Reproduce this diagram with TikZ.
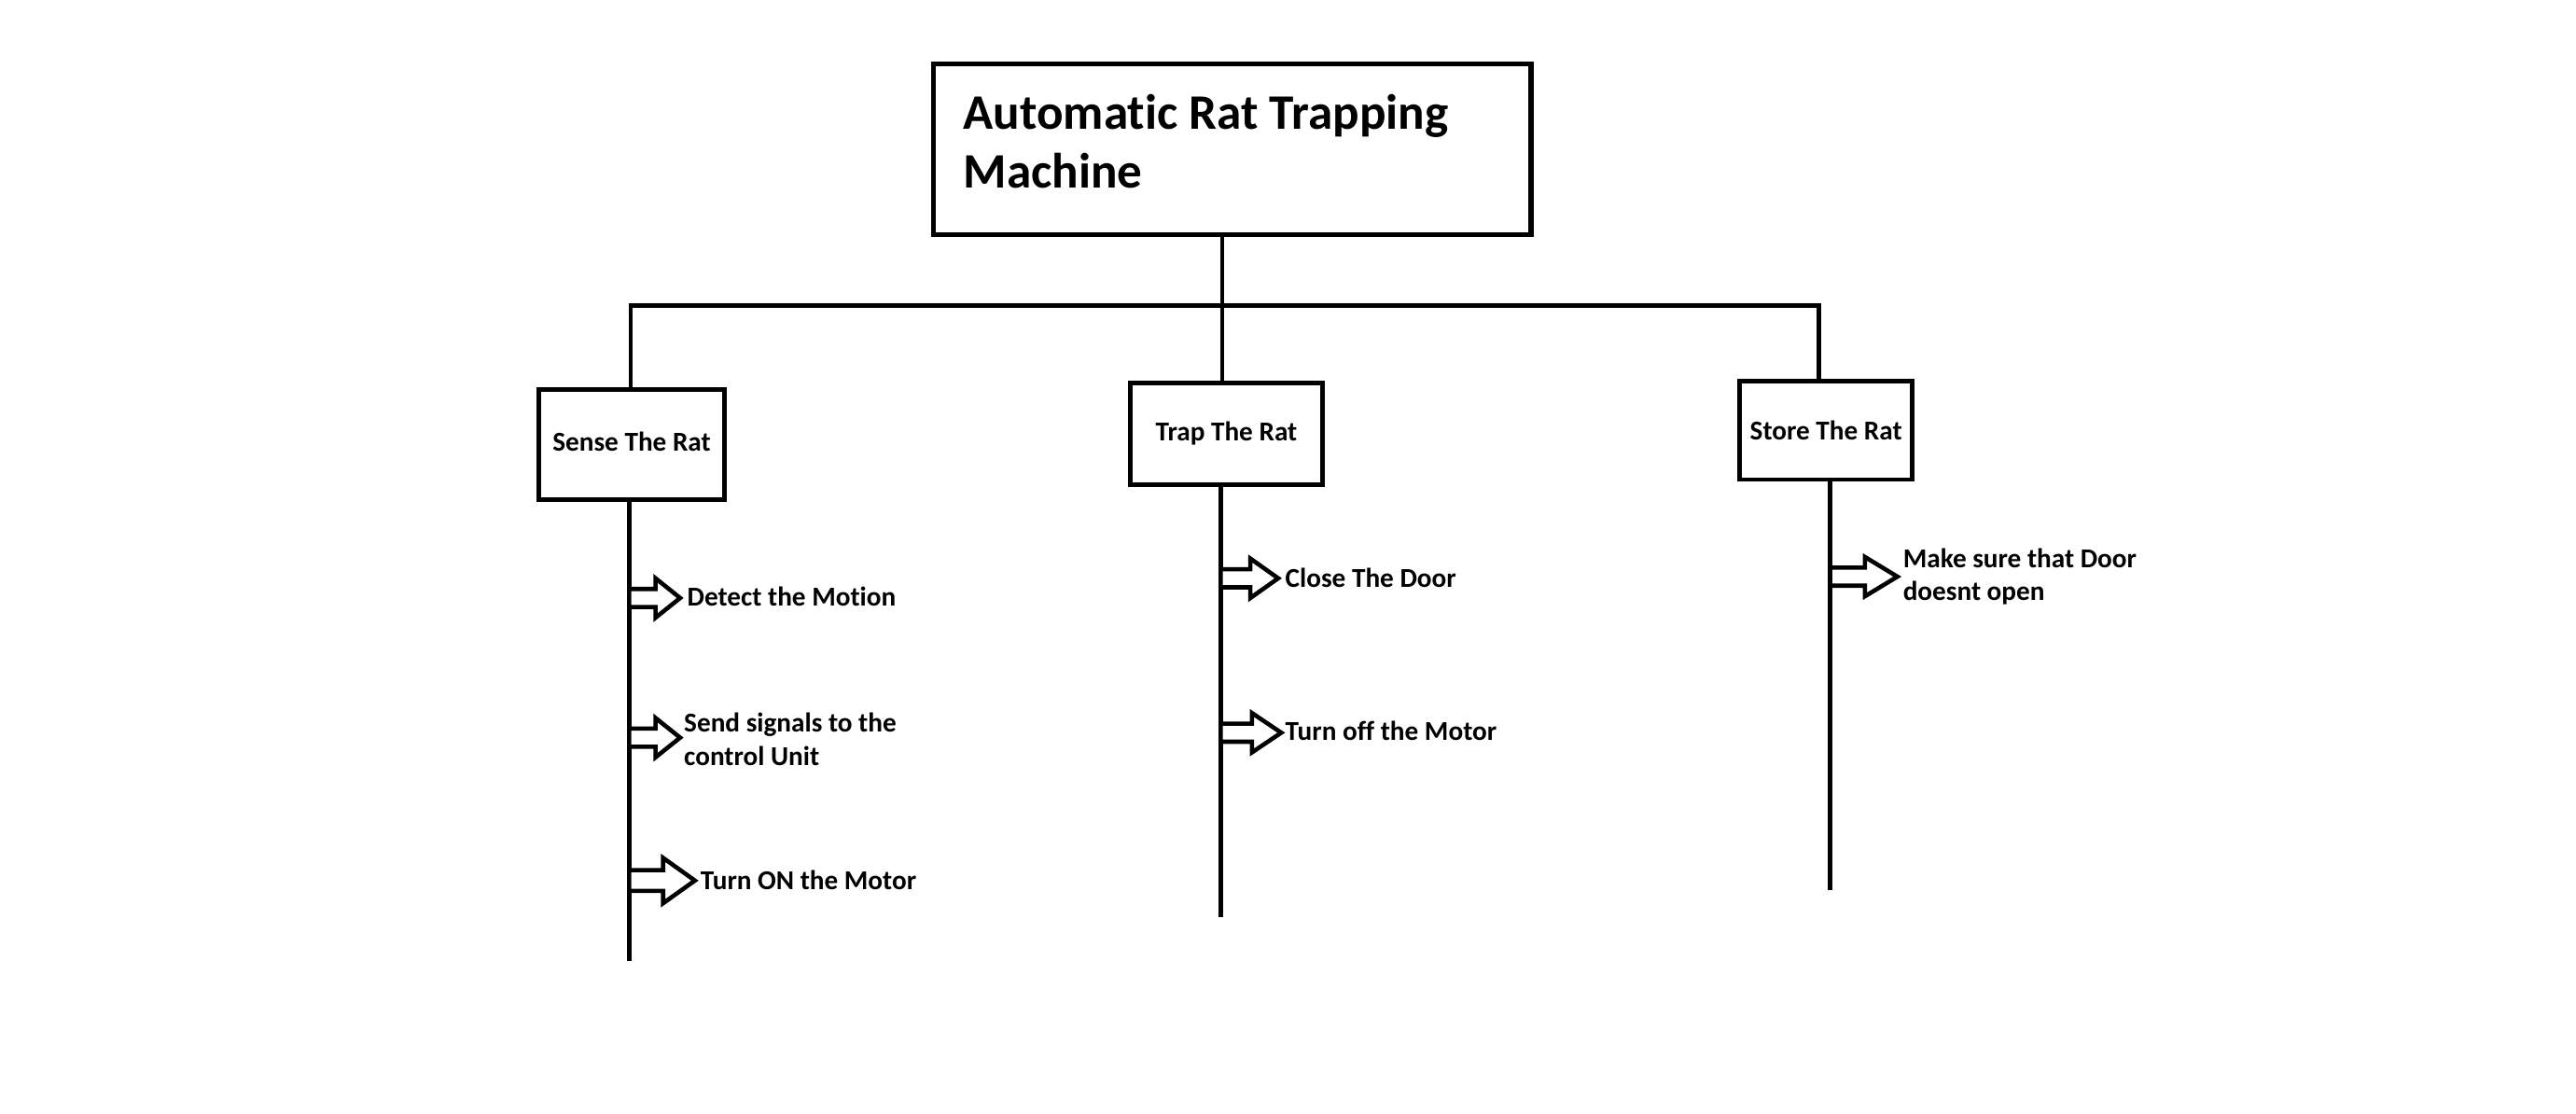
\documentclass[tikz,border=0pt]{standalone}
\usepackage{fontspec}
\setmainfont{Carlito}[Ligatures=NoCommon]
\usetikzlibrary{positioning,calc}

\tikzset{
  box/.style={draw, line width=1.3pt, inner sep=0pt, font=\bfseries\fontsize{8.3}{10}\selectfont},
  lbl/.style={anchor=west, align=left, inner sep=0pt, font=\bfseries\fontsize{8.3}{10}\selectfont},
  link/.style={line width=1.3pt},
  blk/.style={line width=1.3pt, line join=miter, fill=white},
}
% outlined block arrow pointing right from a point on a stem
% #1 = height factor, #2 = length factor, #3 = start point
\newcommand{\blockarrow}[3][1]{\draw[blk, shift={(#3)}, xscale=#2, yscale=#1] (0,-5.5) -- (16,-5.5) -- (16,-12) -- (31,0) -- (16,12) -- (16,5.5) -- (0,5.5) -- cycle;}

\begin{document}
\begin{tikzpicture}[x=0.5pt, y=-0.5pt]
		\useasboundingbox (0,0) rectangle (1568,678);
		
		% Main box
		\node[box, line width=1.5pt, minimum width=182pt, minimum height=52pt] (title) at (750,91) {};
		\node[lbl, font=\bfseries\fontsize{15.1}{18}\selectfont] (titletext) at (586,86) {Automatic Rat Trapping\\Machine};
		
		% Sub boxes
		\node[box, minimum width=56.5pt, minimum height=33.5pt] (sense) at (384.5,270.5) {\raisebox{1.5pt}{Sense The Rat}};
		\node[box, minimum width=58.5pt, minimum height=31pt] (trap) at (746.5,264) {\raisebox{1pt}{Trap The Rat}};
		\node[box, minimum width=52.5pt, minimum height=30pt] (store) at (1111.5,262) {Store The Rat};
		
		% Tree lines
		\coordinate (barL) at (384,186);
		\coordinate (hub) at (744,186);
		\coordinate (barR) at (1107,186);
		\draw[link] (title.south -| hub) -- (hub |- trap.north);
		\draw[link] (barL |- sense.north) -- (barL) -- (barR) -- (barR |- store.north);
		
		% Stems
		\coordinate (senseEnd) at (383,585);
		\coordinate (trapEnd) at (743,558);
		\coordinate (storeEnd) at (1114,542);
		\draw[link] (sense.south -| senseEnd) -- (senseEnd);
		\draw[link] (trap.south -| trapEnd) -- (trapEnd);
		\draw[link] (store.south -| storeEnd) -- (storeEnd);
		
		% Block arrows
		\foreach \y in {364,449}
		{\blockarrow{1}{383,\y}}
		\blockarrow[1.15]{1.29}{383,536}
		\blockarrow{1.13}{743,352}
		\blockarrow{1.19}{743,446}
		\blockarrow{1.32}{1114,351}
		
		% Labels
		\node[lbl] (detect) at (418,363) {Detect the Motion};
		\node[lbl] (send) at (416,450) {Send signals to the\\control Unit};
		\node[lbl] (turnon) at (426,536) {Turn ON the Motor};
		\node[lbl] (close) at (782,352) {Close The Door};
		\node[lbl] (turnoff) at (782,445) {Turn off the Motor};
		\node[lbl] (makesure) at (1158,351) {Make sure that Door\\doesnt open};
		
	\end{tikzpicture}
\end{document}
